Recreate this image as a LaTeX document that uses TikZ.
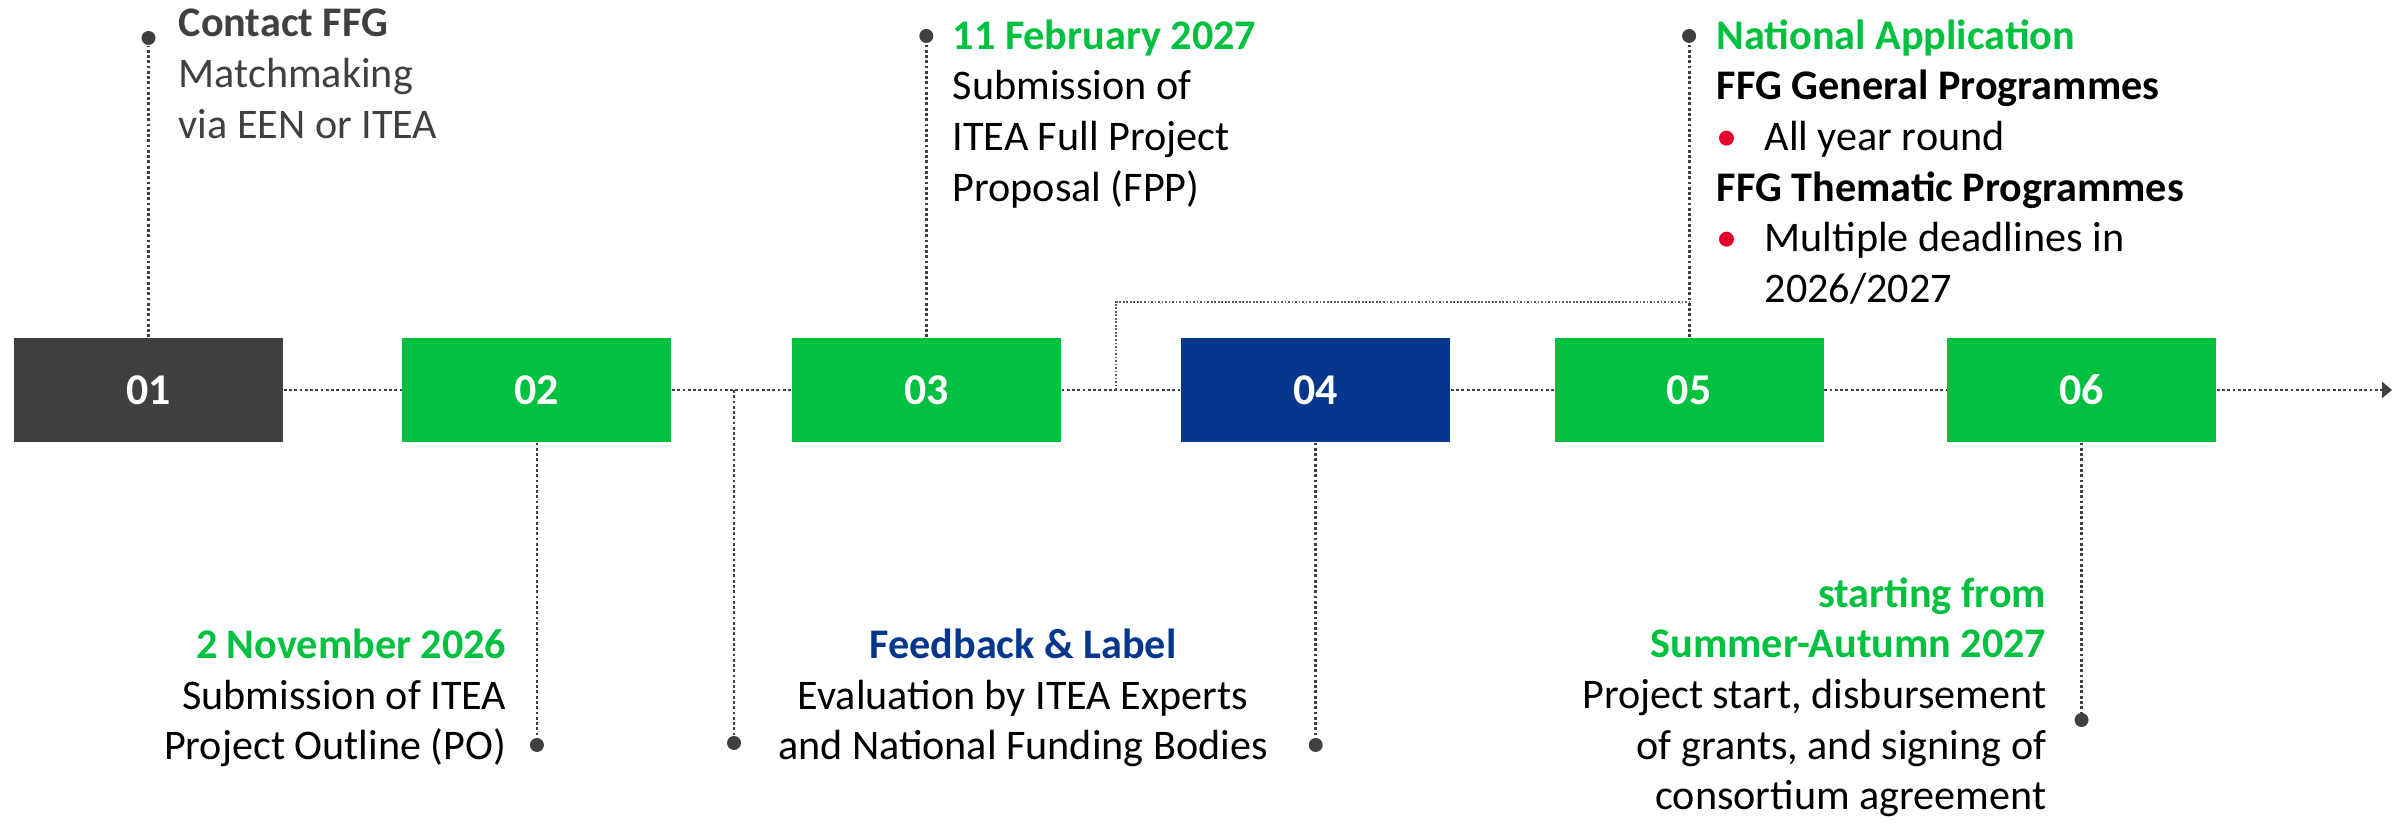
\documentclass[tikz,border=0pt]{standalone}
\usepackage{fontspec}
\setmainfont{Carlito}
\usepackage{tikz}
\usetikzlibrary{positioning,arrows.meta}
\definecolor{itgray}{HTML}{404040}
\definecolor{itgreen}{HTML}{00C13F}
\definecolor{itnavy}{HTML}{06378C}
\definecolor{itred}{HTML}{E4002B}
\newcommand{\bul}{\makebox[0.48cm][l]{\textcolor{itred}{\textbullet}}}
\tikzset
{
    stagebox/.style = {rectangle, minimum width=2.69cm, minimum height=1.04cm, inner sep=0pt, text=white, font=\fontsize{12.5}{15}\selectfont\bfseries},
    tlline/.style   = {draw=itgray, line width=0.8pt, dash pattern=on 0.8pt off 0.7pt},
    thinline/.style = {draw=itgray!85, line width=0.5pt, dash pattern=on 0.5pt off 0.5pt},
    enddot/.style   = {circle, fill=itgray, inner sep=0pt, minimum size=0.14cm},
    notetext/.style = {inner sep=0pt, font=\fontsize{12}{14.4}\selectfont}
}

\begin{document}
\begin{tikzpicture}
    \useasboundingbox (0,0) rectangle (23.92,8.24);
    % stages on the timeline
    \node [stagebox, fill=itgray] (b1) at (1.485,4.34) {01};
    \node [stagebox, fill=itgreen, right=1.18cm of b1] (b2) {02};
    \node [stagebox, fill=itgreen, right=1.19cm of b2] (b3) {03};
    \node [stagebox, fill=itnavy, right=1.19cm of b3] (b4) {04};
    \node [stagebox, fill=itgreen, right=1.03cm of b4] (b5) {05};
    \node [stagebox, fill=itgreen, right=1.22cm of b5] (b6) {06};
    \coordinate (tend) at (23.92,4.34);
    \coordinate (fb) at (7.34,4.34);
    \coordinate (br) at (11.16,4.34);
    \coordinate (j5) at (b5.north |- 0,5.22);

    \draw [tlline] (b1.east) -- (b2.west);
    \draw [tlline] (b2.east) -- (b3.west);
    \draw [tlline] (b3.east) -- (b4.west);
    \draw [tlline] (b4.east) -- (b5.west);
    \draw [tlline] (b5.east) -- (b6.west);
    \draw [tlline, -{Triangle[width=0.16cm,length=0.1cm]}] (b6.east) -- (tend);

    % stems with end dots
    \node [enddot] (d1) at (b1.north |- 0,7.86) {};
    \node [enddot] (d2) at (b2.south |- 0,0.79) {};
    \node [enddot] (d3) at (b3.north |- 0,7.88) {};
    \node [enddot] (d4a) at (fb |- 0,0.81) {};
    \node [enddot] (d4) at (b4.south |- 0,0.79) {};
    \node [enddot] (d5) at (b5.north |- 0,7.88) {};
    \node [enddot] (d6) at (b6.south |- 0,1.04) {};
    \draw [tlline] (b1.north) -- (d1);
    \draw [tlline] (b2.south) -- (d2);
    \draw [tlline] (b3.north) -- (d3);
    \draw [tlline] (fb) -- (d4a);
    \draw [tlline] (b4.south) -- (d4);
    \draw [tlline] (b5.north) -- (d5);
    \draw [tlline] (b6.south) -- (d6);
    \draw [thinline] (br) |- (j5);

    % texts
    \node [notetext, anchor=north west, align=left, text=itgray] (t1) at (1.78,8.155)
        {\textbf{Contact FFG}\\Matchmaking\\via EEN or ITEA};
    \node [notetext, anchor=north west, align=left] (t3) at (9.52,8.05)
        {\textcolor{itgreen}{\textbf{11 February 2027}}\\Submission of\\ITEA Full Project\\Proposal (FPP)};
    \node [notetext, anchor=north west, align=left] (t5) at (17.16,8.05)
        {\textcolor{itgreen}{\textbf{National Application}}\\\textbf{FFG General Programmes}\\\bul All year round\\\textbf{FFG Thematic Programmes}\\\bul Multiple deadlines in\\\hspace*{0.48cm}2026/2027};
    \node [notetext, anchor=north east, align=right] (t2) at (5.07,1.955)
        {\textcolor{itgreen}{\textbf{2 November 2026}}\\Submission of ITEA\\Project Outline (PO)};
    \node [notetext, anchor=north, align=center] (t4) at (10.23,1.955)
        {\textcolor{itnavy}{\textbf{Feedback \& Label}}\\Evaluation by ITEA Experts\\and National Funding Bodies};
    \node [notetext, anchor=north east, align=right] (t6) at (20.47,2.47)
        {\textcolor{itgreen}{\textbf{starting from}}\\\textcolor{itgreen}{\textbf{Summer-Autumn 2027}}\\Project start, disbursement\\of grants, and signing of\\consortium agreement};
\end{tikzpicture}
\end{document}
